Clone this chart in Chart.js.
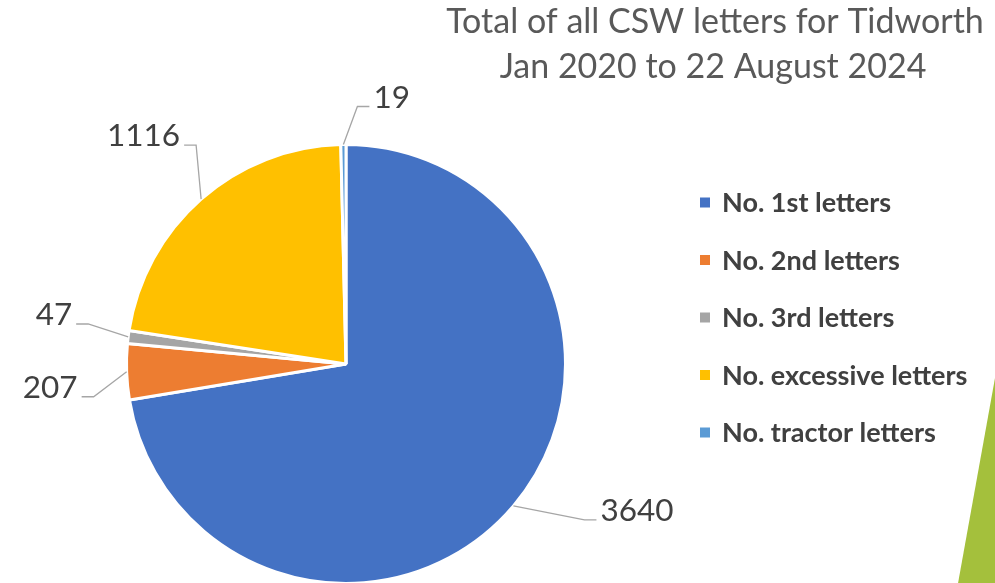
<!DOCTYPE html>
<html>
<head>
<meta charset="utf-8">
<script src="https://cdn.jsdelivr.net/npm/chart.js@4"></script>
<style>
  html, body { margin: 0; padding: 0; background: #fff; overflow: hidden; }
  #wrap { position: relative; width: 995px; height: 600px; }
</style>
</head>
<body>
<div id="wrap"><canvas id="chart-letters"></canvas></div>
<script>
  const categories = ['No. 1st letters', 'No. 2nd letters', 'No. 3rd letters', 'No. excessive letters', 'No. tractor letters'];
  const letterCounts = [3640, 207, 47, 1116, 19];
  const titleLines = ['Total of all CSW letters for Tidworth', 'Jan 2020 to 22 August 2024'];
  const sliceColors = ['#4472C4', '#ED7D31', '#A5A5A5', '#FFC000', '#5B9BD5'];

  const FONT = 'Lato, "Open Sans", sans-serif';

  // label offsets from the slice's outer edge point (text anchor)
  const labelOffsets = [[87, 15], [-49, 26], [-56, -12], [-21, -53], [30, -37]];

  const decoPlugin = {
    id: 'deco',
    beforeDraw(chart) {
      const c = chart.ctx;
      c.save();
      c.fillStyle = '#A4C03C';
      c.beginPath();
      c.moveTo(995, 378);
      c.lineTo(995, 600);
      c.lineTo(955, 600);
      c.closePath();
      c.fill();
      c.restore();
    },
    afterDraw(chart) {
      const c = chart.ctx;
      c.save();
      // title
      c.fillStyle = '#595959';
      c.font = '34px ' + FONT;
      c.textAlign = 'center';
      c.textBaseline = 'middle';
      c.fillText(titleLines[0], 715, 22);
      c.fillText(titleLines[1], 713, 67);

      // legend
      c.font = 'bold 27px ' + FONT;
      c.textAlign = 'left';
      categories.forEach((name, i) => {
        const y = 202.5 + i * 57.5;
        c.fillStyle = sliceColors[i];
        c.fillRect(700, y - 5, 10, 10);
        c.fillStyle = '#404040';
        c.fillText(name, 722, y + 1);
      });

      // data labels with leader lines
      const meta = chart.getDatasetMeta(0);
      c.font = '31.5px ' + FONT;
      c.textBaseline = 'alphabetic';
      meta.data.forEach((arc, i) => {
        const p = arc.getProps(['x', 'y', 'startAngle', 'endAngle', 'outerRadius'], true);
        const mid = (p.startAngle + p.endAngle) / 2;
        const ex = p.x + Math.cos(mid) * p.outerRadius;
        const ey = p.y + Math.sin(mid) * p.outerRadius;
        const [dx, dy] = labelOffsets[i];
        const tx = ex + dx, ty = ey + dy;
        const s = dx > 0 ? 1 : -1;
        c.strokeStyle = '#A6A6A6';
        c.lineWidth = 1.3;
        c.beginPath();
        c.moveTo(ex, ey);
        c.lineTo(tx - s * 16, ty - 1);
        c.lineTo(tx - s * 4, ty - 1);
        c.stroke();
        c.fillStyle = '#404040';
        c.textAlign = s > 0 ? 'left' : 'right';
        c.fillText(String(letterCounts[i]), tx, ty);
      });
      c.restore();
    }
  };

  new Chart(document.getElementById('chart-letters'), {
    type: 'pie',
    data: {
      labels: categories,
      datasets: [{
        data: letterCounts,
        backgroundColor: sliceColors,
        borderColor: '#ffffff',
        borderWidth: 3
      }]
    },
    options: {
      responsive: true,
      maintainAspectRatio: false,
      animation: false,
      layout: { padding: { top: 143, left: 0, right: 303, bottom: 15 } },
      plugins: {
        legend: { display: false },
        title: { display: false },
        tooltip: { enabled: false }
      }
    },
    plugins: [decoPlugin]
  });
</script>
</body>
</html>
